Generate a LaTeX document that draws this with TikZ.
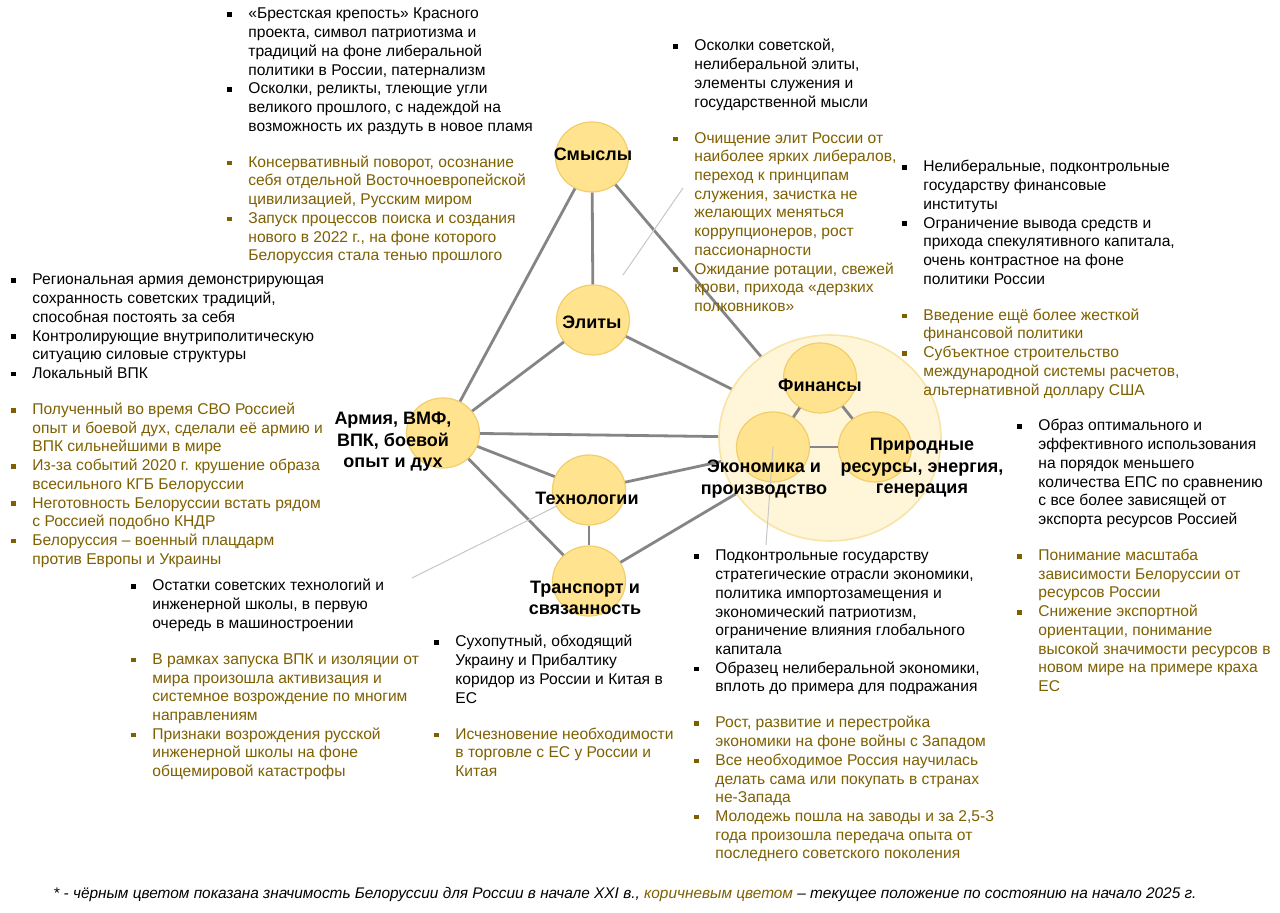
\documentclass[tikz,border=0pt]{standalone}
\usepackage{fontspec}
\setmainfont{Liberation Sans}
\usepackage{xcolor}
\usetikzlibrary{shapes.geometric}
\definecolor{themefill}{HTML}{FFE38F}
\definecolor{themeedge}{HTML}{F2CD6B}
\definecolor{hubfill}{HTML}{FFF6DA}
\definecolor{hubedge}{HTML}{F7E4A6}
\definecolor{nowbrown}{HTML}{7F6000}
\definecolor{linkgray}{HTML}{858585}

% one bulleted point and the gap before the brown points
\newcommand{\bitem}[1]{\par\hangindent=10.5pt\hangafter=1\noindent
  \makebox[10.5pt][l]{\rule[1pt]{2.3pt}{2.3pt}}#1}
\newcommand{\nowpart}{\par\vskip 8.7pt\color{nowbrown}}
\newcommand{\notebox}[1]{\begin{minipage}[t]{270pt}\let\\\newline #1\end{minipage}}

\begin{document}
\begin{tikzpicture}[x=0.5pt,y=-0.5pt,
  theme/.style={ellipse,minimum width=36.5pt,minimum height=35pt,inner sep=0pt,
    fill=themefill,draw=themeedge,line width=0.6pt},
  hub/.style={ellipse,minimum width=111pt,minimum height=103pt,inner sep=0pt,
    fill=hubfill,draw=hubedge,line width=0.8pt},
  link/.style={draw=linkgray,line width=1.4pt},
  leader/.style={draw=black!22,line width=0.5pt},
  title/.style={font=\bfseries\fontsize{9}{10.75}\selectfont,align=center,inner sep=0pt},
  notes/.style={anchor=base west,inner sep=0pt,font=\fontsize{7.8}{9.35}\selectfont}]
  \fill[white] (0,0) rectangle (1280,913);
  \useasboundingbox (0,0) rectangle (1280,913);

  % Hub with finances, economy and resources.
  \node[hub] (hub) at (830,438) {};
  \node[theme] (fin) at (820,378) {};
  \node[theme] (econ) at (773,447) {};
  \node[theme] (res) at (875,447) {};
  \draw[link] (fin) -- (econ);
  \draw[link] (fin) -- (res);
  \draw[link] (econ) -- (res);

  % Outer themes.
  \node[theme] (sense) at (592,157) {};
  \node[theme] (elite) at (593,320) {};
  \node[theme] (army) at (443,433) {};
  \node[theme] (tech) at (589,490) {};
  \node[theme] (trans) at (589,581) {};

  \draw[link] (sense) -- (elite);
  \draw[link] (sense) -- (army);
  \draw[link] (sense) -- (hub);
  \draw[link] (elite) -- (army);
  \draw[link] (elite) -- (hub);
  \draw[link] (army) -- (hub);
  \draw[link] (army) -- (tech);
  \draw[link] (army) -- (trans);
  \draw[link] (tech) -- (trans);
  \draw[link] (tech) -- (hub);
  \draw[link] (trans) -- (hub);

  % Thin leaders towards the notes.
  \coordinate (elitepin) at (623,275);
  \coordinate (elitetag) at (683,188);
  \coordinate (techpin) at (412,578);
  \coordinate (econpin) at (766,545);
  \draw[leader] (elitepin) -- (elitetag);
  \draw[leader] (tech) -- (techpin);
  \draw[leader] (econ.center) -- (econpin);

  % Titles.
  \node[title] (sensetitle) at (593,154) {Смыслы};
  \node[title] (elitetitle) at (592,322) {Элиты};
  \node[title] (armytitle) at (393,442) {Армия, ВМФ,\\ВПК, боевой\\опыт и дух};
  \node[title] (techtitle) at (587,498) {Технологии};
  \node[title] (transtitle) at (585,598) {Транспорт и\\связанность};
  \node[title] (fintitle) at (820,385) {Финансы};
  \node[title] (econtitle) at (764,479) {Экономика и\\производство};
  \node[title] (restitle) at (922,468) {Природные\\ресурсы, энергия,\\генерация};

  % Notes: black for the start of the century, brown for 2025.
  \node[notes] (sensenotes) at (227,19) {\notebox{%
    \bitem{«Брестская крепость» Красного\\проекта, символ патриотизма и\\традиций на фоне либеральной\\политики в России, патернализм}
    \bitem{Осколки, реликты, тлеющие угли\\великого прошлого, с надеждой на\\возможность их раздуть в новое пламя}
    \nowpart
    \bitem{Консервативный поворот, осознание\\себя отдельной Восточноевропейской\\цивилизацией, Русским миром}
    \bitem{Запуск процессов поиска и создания\\нового в 2022 г., на фоне которого\\Белоруссия стала тенью прошлого}}};
  \node[notes] (elitenotes) at (673,51) {\notebox{%
    \bitem{Осколки советской,\\нелиберальной элиты,\\элементы служения и\\государственной мысли}
    \nowpart
    \bitem{Очищение элит России от\\наиболее ярких либералов,\\переход к принципам\\служения, зачистка не\\желающих меняться\\коррупционеров, рост\\пассионарности}
    \bitem{Ожидание ротации, свежей\\крови, прихода «дерзких\\полковников»}}};
  \node[notes] (finnotes) at (902,172) {\notebox{%
    \bitem{Нелиберальные, подконтрольные\\государству финансовые\\институты}
    \bitem{Ограничение вывода средств и\\прихода спекулятивного капитала,\\очень контрастное на фоне\\политики России}
    \nowpart
    \bitem{Введение ещё более жесткой\\финансовой политики}
    \bitem{Субъектное строительство\\международной системы расчетов,\\альтернативной доллару США}}};
  \node[notes] (armynotes) at (11,285) {\notebox{%
    \bitem{Региональная армия демонстрирующая\\сохранность советских традиций,\\способная постоять за себя}
    \bitem{Контролирующие внутриполитическую\\ситуацию силовые структуры}
    \bitem{Локальный ВПК}
    \nowpart
    \bitem{Полученный во время СВО Россией\\опыт и боевой дух, сделали её армию и\\ВПК сильнейшими в мире}
    \bitem{Из-за событий 2020 г. крушение образа\\всесильного КГБ Белоруссии}
    \bitem{Неготовность Белоруссии встать рядом\\с Россией подобно КНДР}
    \bitem{Белоруссия – военный плацдарм\\против Европы и Украины}}};
  \node[notes] (resnotes) at (1017,431) {\notebox{%
    \bitem{Образ оптимального и\\эффективного использования\\на порядок меньшего\\количества ЕПС по сравнению\\с все более зависящей от\\экспорта ресурсов Россией}
    \nowpart
    \bitem{Понимание масштаба\\зависимости Белоруссии от\\ресурсов России}
    \bitem{Снижение экспортной\\ориентации, понимание\\высокой значимости ресурсов в\\новом мире на примере краха\\ЕС}}};
  \node[notes] (technotes) at (131,591) {\notebox{%
    \bitem{Остатки советских технологий и\\инженерной школы, в первую\\очередь в машиностроении}
    \nowpart
    \bitem{В рамках запуска ВПК и изоляции от\\мира произошла активизация и\\системное возрождение по многим\\направлениям}
    \bitem{Признаки возрождения русской\\инженерной школы на фоне\\общемировой катастрофы}}};
  \node[notes] (transnotes) at (434,647) {\notebox{%
    \bitem{Сухопутный, обходящий\\Украину и Прибалтику\\коридор из России и Китая в\\ЕС}
    \nowpart
    \bitem{Исчезновение необходимости\\в торговле с ЕС у России и\\Китая}}};
  \node[notes] (econnotes) at (694,561) {\notebox{%
    \bitem{Подконтрольные государству\\стратегические отрасли экономики,\\политика импортозамещения и\\экономический патриотизм,\\ограничение влияния глобального\\капитала}
    \bitem{Образец нелиберальной экономики,\\вплоть до примера для подражания}
    \nowpart
    \bitem{Рост, развитие и перестройка\\экономики на фоне войны с Западом}
    \bitem{Все необходимое Россия научилась\\делать сама или покупать в странах\\не-Запада}
    \bitem{Молодежь пошла на заводы и за 2,5-3\\года произошла передача опыта от\\последнего советского поколения}}};

  % Footnote.
  \node[font=\itshape\fontsize{7.7}{9}\selectfont,inner sep=0pt] (footnote) at (625,895)
    {* - чёрным цветом показана значимость Белоруссии для России в начале XXI в.,
     {\color{nowbrown}коричневым цветом} – текущее положение по состоянию на начало 2025 г.};
\end{tikzpicture}
\end{document}
